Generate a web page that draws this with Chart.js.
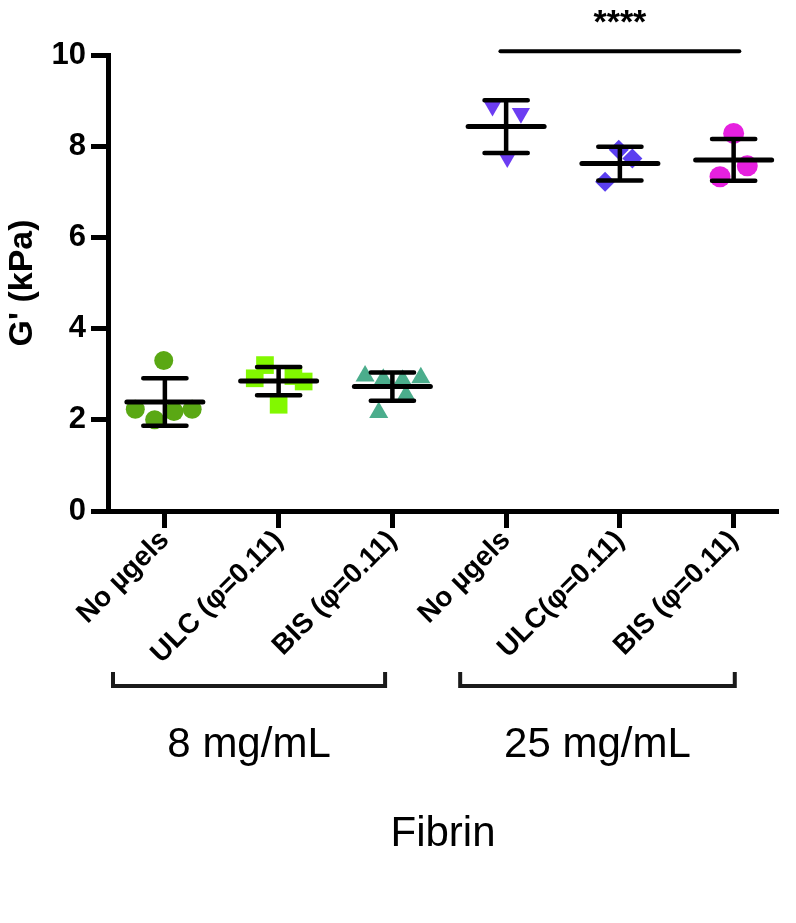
<!DOCTYPE html>
<html>
<head>
<meta charset="utf-8">
<script src="https://cdn.jsdelivr.net/npm/chart.js@4"></script>
<style>
  html, body { margin: 0; padding: 0; background: #fff; }
  #wrap { width: 796px; height: 923px; position: relative; }
</style>
</head>
<body>
<div id="wrap"><canvas id="c" width="796" height="923"></canvas></div>
<script>
// ---- data ----
const categories = ['No µgels', 'ULC (φ=0.11)', 'BIS (φ=0.11)', 'No µgels', 'ULC(φ=0.11)', 'BIS (φ=0.11)'];
const yTicks = [0, 2, 4, 6, 8, 10];

const noGel8Values   = [3.30, 2.23, 2.00, 2.18, 2.23];
const ulc8Values     = [3.20, 2.91, 2.96, 2.84, 2.33];
const bis8Values     = [2.96, 2.89, 2.87, 2.92, 2.54, 2.16];
const noGel25Values  = [8.88, 8.72, 7.75];
const ulc25Values    = [7.92, 7.73, 7.22];
const bis25Values    = [8.28, 7.57, 7.33];

// horizontal scatter of the points (category units)
const noGel8Jitter  = [-0.01, -0.26, -0.09, 0.08, 0.24];
const ulc8Jitter    = [-0.12, -0.21, 0.13, 0.22, 0.00];
const bis8Jitter    = [-0.24, -0.08, 0.09, 0.25, 0.12, -0.12];
const noGel25Jitter = [-0.12, 0.13, 0.01];
const ulc25Jitter   = [-0.01, 0.11, -0.13];
const bis25Jitter   = [0.00, 0.12, -0.12];

const means = [2.39, 2.85, 2.73, 8.43, 7.62, 7.70];
const sds   = [0.52, 0.31, 0.31, 0.58, 0.37, 0.46];

const concentrationLabels = ['8 mg/mL', '25 mg/mL'];
const significanceLabel = '****';
const xTitle = 'Fibrin';
const yTitle = "G' (kPa)";

// ---- build datasets ----
function pts(vals, jit, idx) {
  return vals.map((v, i) => ({ x: idx + 1 + jit[i], y: v }));
}
const groups = [
  { vals: noGel8Values,  jit: noGel8Jitter,  color: '#5aa814', style: 'circle',   radius: 9.5, rot: 0 },
  { vals: ulc8Values,    jit: ulc8Jitter,    color: '#82f800', style: 'rect',     radius: 12.5, rot: 0 },
  { vals: bis8Values,    jit: bis8Jitter,    color: '#4bad8c', style: 'triangle', radius: 11, rot: 0 },
  { vals: noGel25Values, jit: noGel25Jitter, color: '#6c3df2', style: 'triangle', radius: 10.5, rot: 180 },
  { vals: ulc25Values,   jit: ulc25Jitter,   color: '#5b3ff0', style: 'rectRot',  radius: 10, rot: 0 },
  { vals: bis25Values,   jit: bis25Jitter,   color: '#e620df', style: 'circle',   radius: 10.5, rot: 0 }
];
const datasets = groups.map((g, i) => ({
  label: categories[i],
  data: pts(g.vals, g.jit, i),
  pointStyle: g.style,
  pointRadius: g.radius,
  pointHoverRadius: g.radius,
  pointRotation: g.rot,
  backgroundColor: g.color,
  borderColor: g.color,
  borderWidth: 0,
  showLine: false,
  clip: false
}));

const FONT = "'Liberation Sans', Arial, Helvetica, sans-serif";

const overlay = {
  id: 'overlay',
  afterDatasetsDraw(chart) {
    const ctx = chart.ctx;
    const xs = chart.scales.x, ys = chart.scales.y;
    const ca = chart.chartArea;
    ctx.save();
    ctx.strokeStyle = '#000';
    ctx.lineCap = 'round';
    // mean ± SD bars
    means.forEach((m, i) => {
      const cx = xs.getPixelForValue(i + 1);
      const meanHalf = xs.getPixelForValue(i + 1 + 0.334) - cx;
      const capHalf = xs.getPixelForValue(i + 1 + 0.19) - cx;
      const yM = ys.getPixelForValue(m);
      const yU = ys.getPixelForValue(m + sds[i]);
      const yL = ys.getPixelForValue(m - sds[i]);
      ctx.lineWidth = 4.5;
      ctx.beginPath();
      ctx.moveTo(cx, yU); ctx.lineTo(cx, yL);
      ctx.moveTo(cx - capHalf, yU); ctx.lineTo(cx + capHalf, yU);
      ctx.moveTo(cx - capHalf, yL); ctx.lineTo(cx + capHalf, yL);
      ctx.stroke();
      ctx.lineWidth = 5;
      ctx.beginPath();
      ctx.moveTo(cx - meanHalf, yM); ctx.lineTo(cx + meanHalf, yM);
      ctx.stroke();
    });
    // significance bar between group 4 and 6
    const sy = ys.getPixelForValue(10.08);
    ctx.lineWidth = 4;
    ctx.beginPath();
    ctx.moveTo(xs.getPixelForValue(3.95), sy);
    ctx.lineTo(xs.getPixelForValue(6.05), sy);
    ctx.stroke();
    ctx.fillStyle = '#000';
    ctx.font = 'bold 34px ' + FONT;
    ctx.textAlign = 'center';
    ctx.textBaseline = 'alphabetic';
    ctx.fillText(significanceLabel, xs.getPixelForValue(5.0), sy - 18);

    // concentration brackets
    const bracketSpans = [[0.544, 2.936], [3.596, 6.01]];
    const by = ca.bottom + 175;
    ctx.lineCap = 'butt';
    ctx.strokeStyle = '#1a1a1a';
    ctx.lineWidth = 4;
    ctx.font = '42px ' + FONT;
    ctx.textBaseline = 'middle';
    bracketSpans.forEach((s, i) => {
      const x0 = xs.getPixelForValue(s[0]);
      const x1 = xs.getPixelForValue(s[1]);
      ctx.beginPath();
      ctx.moveTo(x0, by - 14);
      ctx.lineTo(x0, by);
      ctx.lineTo(x1, by);
      ctx.lineTo(x1, by - 14);
      ctx.stroke();
      ctx.fillText(concentrationLabels[i], (x0 + x1) / 2, ca.bottom + 234);
    });
    ctx.restore();
  }
};

new Chart(document.getElementById('c'), {
  type: 'scatter',
  data: { datasets },
  options: {
    responsive: false,
    animation: false,
    events: [],
    layout: { padding: { top: 55, right: 18, left: 0, bottom: 0 } },
    plugins: { legend: { display: false }, tooltip: { enabled: false } },
    scales: {
      x: {
        type: 'linear',
        min: 0.5,
        max: 6.39,
        afterFit: (s) => { s.height = 412; },
        afterBuildTicks: (s) => { s.ticks = categories.map((c, i) => ({ value: i + 1 })); },
        ticks: {
          autoSkip: false,
          minRotation: 45,
          maxRotation: 45,
          padding: -4,
          color: '#000',
          font: { family: FONT, size: 28, weight: 'bold' },
          callback: (v) => categories[Math.round(v) - 1]
        },
        grid: { drawOnChartArea: false, drawTicks: true, tickLength: 17, tickWidth: 5, tickColor: '#000' },
        border: { display: true, width: 5, color: '#000' },
        title: { display: true, text: xTitle, color: '#000', font: { family: FONT, size: 42 }, padding: { top: 0, bottom: 63 } }
      },
      y: {
        type: 'linear',
        min: 0,
        max: 10,
        afterFit: (s) => { s.width = 108; },
        afterBuildTicks: (s) => { s.ticks = yTicks.map(v => ({ value: v })); },
        ticks: {
          padding: 5,
          color: '#000',
          font: { family: FONT, size: 31, weight: 'bold' }
        },
        grid: { drawOnChartArea: false, drawTicks: true, tickLength: 17, tickWidth: 5, tickColor: '#000' },
        border: { display: true, width: 5, color: '#000' },
        title: { display: true, text: yTitle, color: '#000', font: { family: FONT, size: 34, weight: 'bold' }, padding: { top: 2, bottom: 0 } }
      }
    }
  },
  plugins: [overlay]
});
</script>
</body>
</html>
